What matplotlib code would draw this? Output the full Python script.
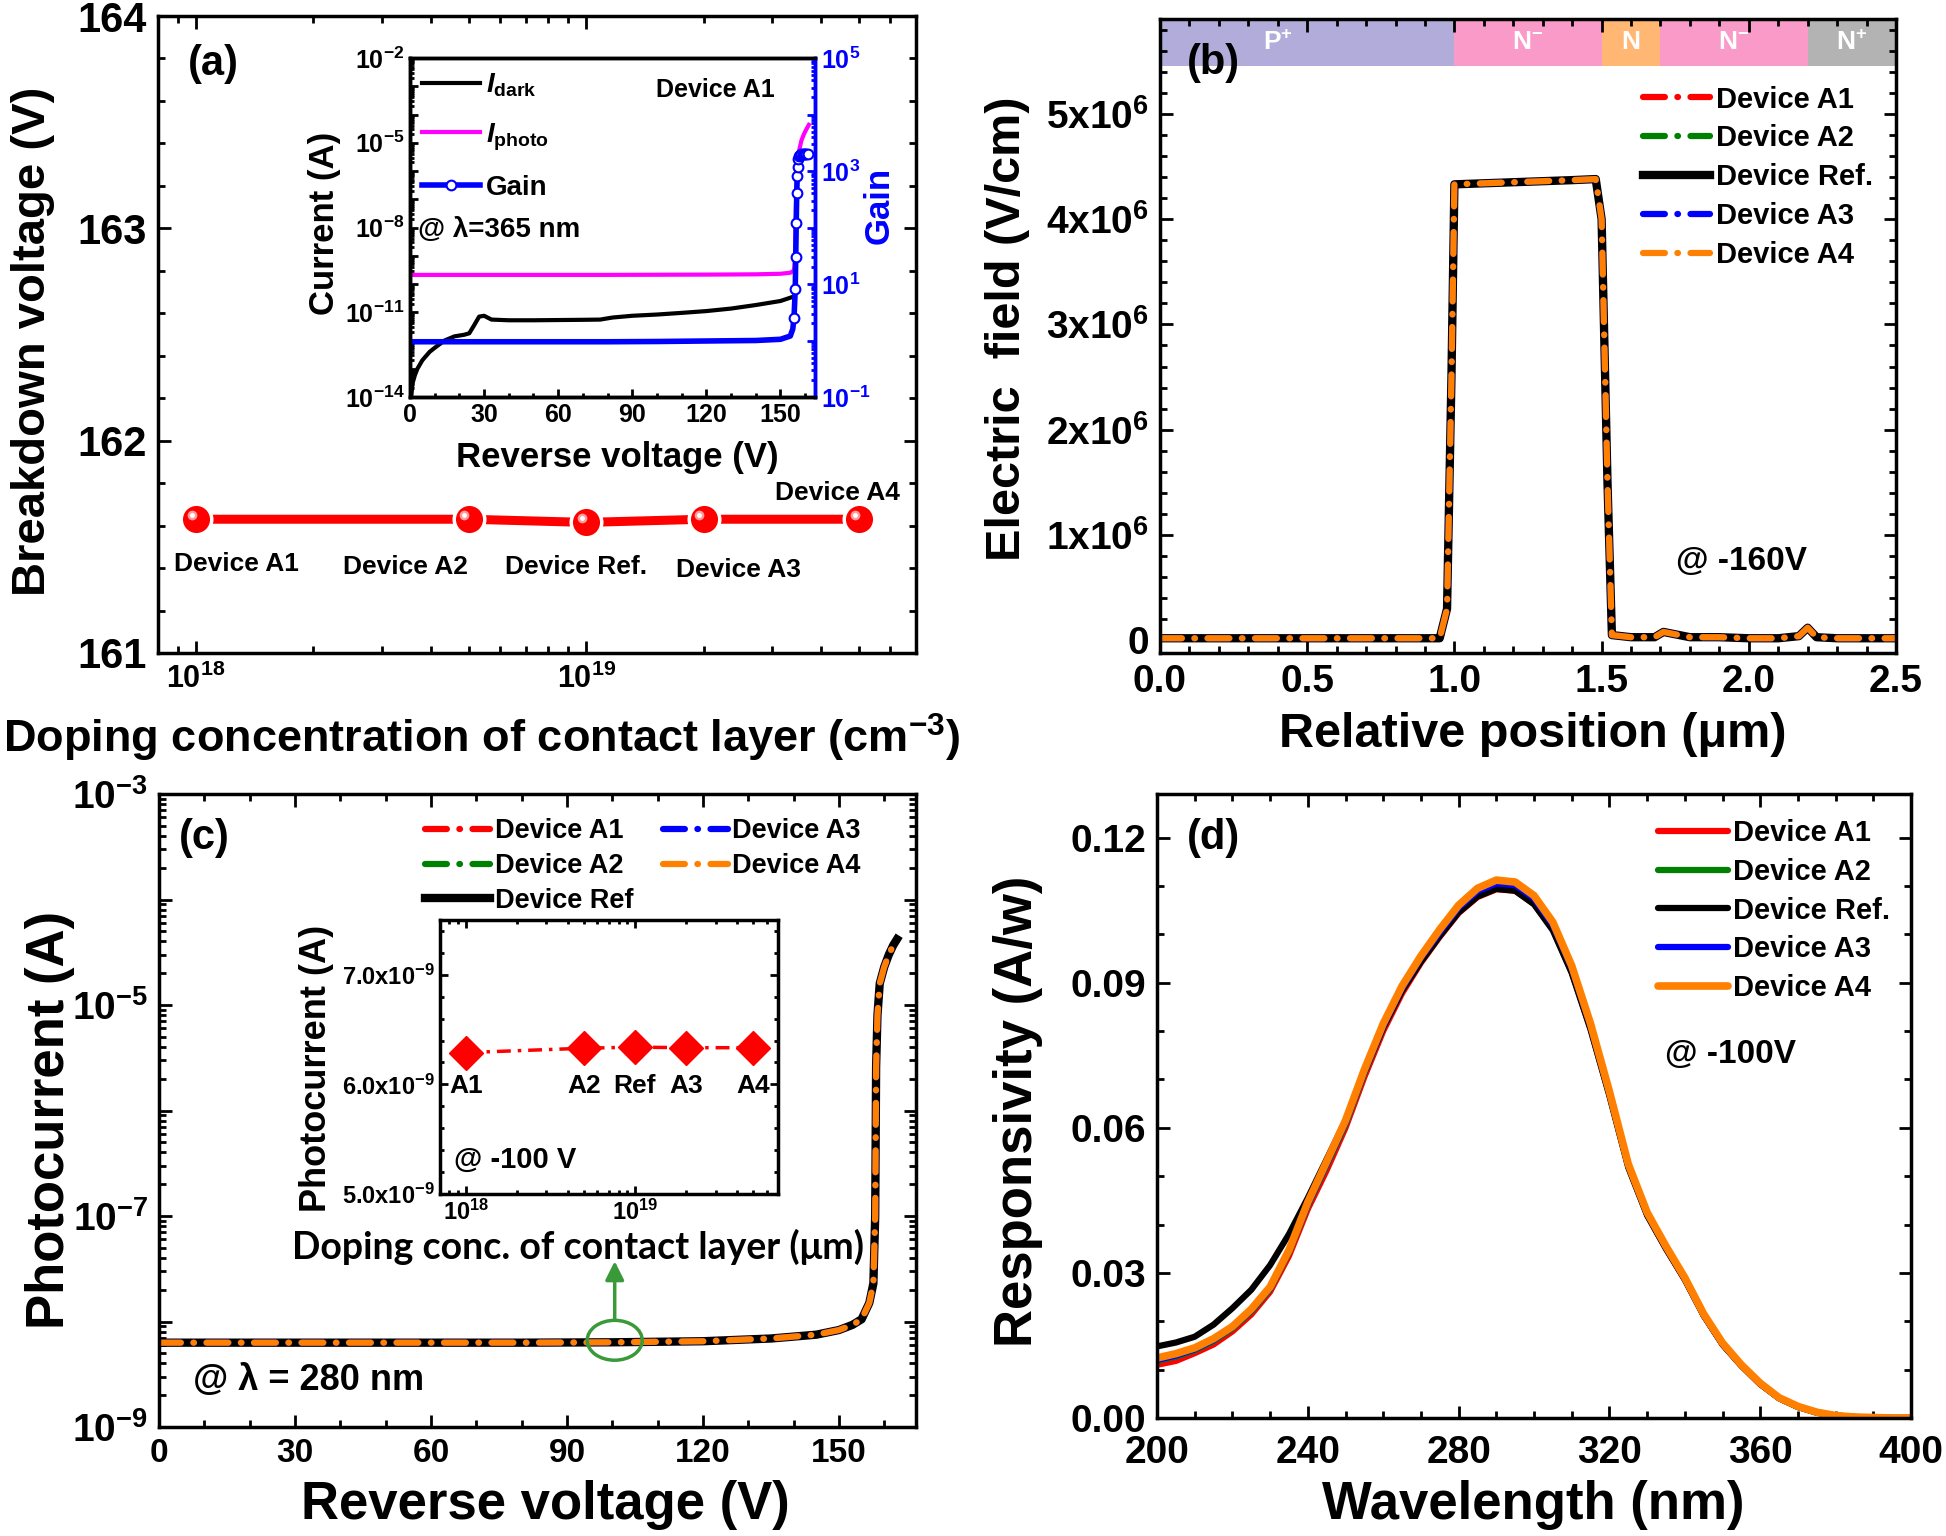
import numpy as np
import matplotlib
matplotlib.use("Agg")
import matplotlib.pyplot as plt
import matplotlib.transforms as mtransforms
from matplotlib.lines import Line2D
from matplotlib.ticker import MultipleLocator, LogLocator, FixedLocator, FuncFormatter, NullFormatter
from matplotlib.patches import Ellipse

plt.rcParams.update({
    "font.family": ["Liberation Sans", "DejaVu Sans"],
    "font.weight": "bold",
    "axes.labelweight": "bold",
    "mathtext.fontset": "custom",
    "mathtext.rm": "Liberation Sans:bold",
    "mathtext.bf": "Liberation Sans:bold",
    "mathtext.it": "Liberation Sans:bold:italic",
    "axes.unicode_minus": True,
})

# ---------------- data ----------------
# (a) breakdown voltage vs contact doping
doping = [1e18, 5e18, 1e19, 2e19, 5e19]
vbr = [161.63, 161.63, 161.615, 161.63, 161.63]
dev_labels_a = ["Device A1", "Device A2", "Device Ref.", "Device A3", "Device A4"]

# (a) inset: device A1 I-V and gain
v_dark = [0.5, 1, 2, 3, 5, 8, 10, 14, 18, 22, 24, 26, 28, 30, 33, 40, 50, 60, 70, 77, 82,
          90, 100, 110, 120, 130, 140, 150, 155]
i_dark = [1e-14, 3e-14, 6e-14, 1e-13, 2e-13, 4e-13, 5.5e-13, 1e-12, 1.4e-12, 1.6e-12, 1.8e-12,
          3.5e-12, 7e-12, 7.5e-12, 5.5e-12, 5.2e-12, 5.2e-12, 5.3e-12, 5.4e-12, 5.5e-12, 6.5e-12,
          7.5e-12, 8.3e-12, 9.5e-12, 1.1e-11, 1.35e-11, 1.8e-11, 2.5e-11, 3.5e-11]
v_photo = [0, 40, 80, 120, 140, 150, 154, 155.5, 156, 156.3, 156.8, 157.5, 158.5, 159.5, 160.5, 161.5]
i_photo = [2.1e-10, 2.1e-10, 2.1e-10, 2.15e-10, 2.2e-10, 2.3e-10, 2.5e-10, 3e-10, 1e-9, 5e-8,
           2e-6, 5e-6, 1.2e-5, 2e-5, 3e-5, 4.3e-5]
v_gain = [0, 20, 40, 60, 80, 100, 120, 140, 150, 154, 155, 155.5, 156, 156.2, 156.4, 156.6,
          156.8, 157.0, 157.3, 157.6, 158, 158.5, 159, 159.5, 160, 160.5, 161]
gain = [0.95, 0.95, 0.95, 0.95, 0.95, 0.96, 0.98, 1.0, 1.05, 1.2, 1.6, 2.5, 8, 30, 120, 400,
        800, 1200, 1600, 1850, 1950, 2000, 2000, 2000, 2000, 2000, 2000]

# (b) electric field profile at -160 V
position = [0.0, 0.95, 0.975, 0.99, 1.0, 1.1, 1.2, 1.3, 1.4, 1.48, 1.50, 1.52, 1.535, 1.6, 1.68,
            1.71, 1.8, 1.9, 2.0, 2.1, 2.17, 2.2, 2.23, 2.3, 2.5]
field = [0.02e6, 0.02e6, 0.3e6, 2.5e6, 4.33e6, 4.34e6, 4.35e6, 4.36e6, 4.37e6, 4.38e6, 4.0e6,
         1.5e6, 0.05e6, 0.03e6, 0.03e6, 0.08e6, 0.03e6, 0.03e6, 0.02e6, 0.02e6, 0.04e6, 0.12e6,
         0.03e6, 0.02e6, 0.02e6]
layers = [(0.0, 1.0, "P$^{+}$", "#b1acd9"), (1.0, 1.5, "N$^{-}$", "#fa9ac8"),
          (1.5, 1.7, "N", "#ffb773"), (1.7, 2.2, "N$^{-}$", "#fa9ac8"),
          (2.2, 2.5, "N$^{+}$", "#b3b3b3")]

# (c) photocurrent vs reverse voltage at 280 nm
v_pc = [0, 40, 80, 100, 120, 135, 145, 150, 153, 155, 156.7, 157.6, 158.0, 158.2, 158.5, 159,
        160, 161, 162, 162.8]
i_pc = [6.3e-9, 6.3e-9, 6.3e-9, 6.35e-9, 6.5e-9, 6.9e-9, 7.5e-9, 8.3e-9, 9.3e-9, 1.05e-8,
        1.5e-8, 2.3e-8, 1e-7, 2.6e-6, 8e-6, 1.6e-5, 2.3e-5, 3e-5, 3.7e-5, 4.2e-5]
pc_100v = [6.29e-9, 6.33e-9, 6.34e-9, 6.335e-9, 6.335e-9]
short_labels = ["A1", "A2", "Ref", "A3", "A4"]

# (d) responsivity spectra at -100 V
wl = [200, 205, 210, 215, 220, 225, 230, 235, 240, 245, 250, 255, 260, 265, 270, 275, 280, 285,
      290, 295, 300, 305, 310, 315, 320, 325, 330, 335, 340, 345, 350, 355, 360, 365, 370, 375,
      380, 385, 390, 395, 400]
r_a1 = [0.0110, 0.0118, 0.0134, 0.0152, 0.0179, 0.0214, 0.0261, 0.0335, 0.0432, 0.0512, 0.0600,
        0.0705, 0.0800, 0.0878, 0.0941, 0.0995, 0.1044, 0.1077, 0.1093, 0.1090, 0.1063, 0.1010,
        0.0922, 0.0805, 0.0668, 0.0520, 0.0420, 0.0350, 0.0286, 0.0212, 0.0152, 0.0108, 0.0070,
        0.0041, 0.0023, 0.0011, 0.0005, 0.0002, 0.0001, 0.0, 0.0]
r_a2 = [0.0118, 0.0127, 0.0140, 0.0159, 0.0185, 0.0220, 0.0266, 0.0342, 0.0439, 0.0522, 0.0607,
        0.0712, 0.0807, 0.0885, 0.0949, 0.1002, 0.1052, 0.1086, 0.1101, 0.1098, 0.1070, 0.1016,
        0.0928, 0.0810, 0.0671, 0.0522, 0.0422, 0.0352, 0.0288, 0.0213, 0.0153, 0.0109, 0.0071,
        0.0041, 0.0023, 0.0012, 0.0005, 0.0002, 0.0001, 0.0, 0.0]
r_ref = [0.0148, 0.0156, 0.0168, 0.0193, 0.0227, 0.0265, 0.0316, 0.0380, 0.0455, 0.0535,
         0.0615, 0.0715, 0.0807, 0.0883, 0.0943, 0.0996, 0.1045, 0.1078, 0.1094, 0.1090, 0.1062,
         0.1008, 0.0920, 0.0803, 0.0666, 0.0518, 0.0419, 0.0350, 0.0286, 0.0212, 0.0152, 0.0108,
         0.0070, 0.0041, 0.0023, 0.0011, 0.0005, 0.0002, 0.0001, 0.0, 0.0]
r_a3 = [0.0120, 0.0129, 0.0142, 0.0161, 0.0187, 0.0222, 0.0268, 0.0345, 0.0441, 0.0525, 0.0610,
        0.0715, 0.0810, 0.0888, 0.0951, 0.1004, 0.1055, 0.1089, 0.1105, 0.1102, 0.1074, 0.1019,
        0.0930, 0.0811, 0.0672, 0.0523, 0.0423, 0.0353, 0.0288, 0.0213, 0.0153, 0.0109, 0.0071,
        0.0041, 0.0023, 0.0012, 0.0005, 0.0002, 0.0001, 0.0, 0.0]
r_a4 = [0.0124, 0.0133, 0.0145, 0.0164, 0.0189, 0.0225, 0.0271, 0.0347, 0.0446, 0.0530, 0.0615,
        0.0720, 0.0815, 0.0893, 0.0955, 0.1010, 0.1060, 0.1095, 0.1112, 0.1108, 0.1080, 0.1025,
        0.0935, 0.0815, 0.0675, 0.0525, 0.0425, 0.0355, 0.0290, 0.0215, 0.0155, 0.0110, 0.0072,
        0.0042, 0.0024, 0.0012, 0.0005, 0.0002, 0.0001, 0.0, 0.0]

dev_names = ["Device A1", "Device A2", "Device Ref.", "Device A3", "Device A4"]
dev_colors = ["#ff0000", "#008000", "#000000", "#0000ff", "#ff8000"]
dashdot = (0, (3.5, 2, 0.1, 2))

# ---------------- helpers ----------------
W, H = 1946, 1536


def box(l, t, r, b):
    return [l / W, 1 - b / H, (r - l) / W, (b - t) / H]


def style(ax, size, top=True, right=True, pad=8, major=9, minor=5):
    ax.tick_params(which="both", direction="in", top=top, right=right, width=2,
                   labelsize=size, pad=pad)
    ax.tick_params(which="major", length=major)
    ax.tick_params(which="minor", length=minor)
    for s in ax.spines.values():
        s.set_linewidth(2.5)


def pow10(keep):
    def f(v, pos):
        e = int(round(np.log10(v)))
        return r"$\mathdefault{10^{%d}}$" % e if e in keep else ""
    return FuncFormatter(f)


fig = plt.figure(figsize=(19.46, 15.36), dpi=100)

# ================= (a) =================
ax = fig.add_axes(box(158, 16, 916, 653))
ax.set_xscale("log")
ax.set_xlim(8e17, 7e19)
ax.set_ylim(161, 164)
ax.plot(doping, vbr, "-", color="red", lw=6.5, zorder=2)
ax.plot(doping, vbr, "o", ms=22, mfc="red", mec="white", mew=2.5, zorder=3)
shine = mtransforms.offset_copy(ax.transData, fig=fig, x=-3, y=3, units="points")
ax.plot(doping, vbr, "o", ms=7, mfc="#ff9c9c", mec="none", zorder=4, transform=shine)
ax.plot(doping, vbr, "o", ms=3.5, mfc="white", mec="none", zorder=5, transform=shine)
label_pos_a = [(1.27e18, 161.42), (3.45e18, 161.405), (9.4e18, 161.405), (2.45e19, 161.39),
               (4.4e19, 161.755)]
for (lx, ly), t in zip(label_pos_a, dev_labels_a):
    ax.text(lx, ly, t, ha="center", va="center", fontsize=19)
ax.xaxis.set_major_locator(LogLocator(base=10, numticks=10))
ax.xaxis.set_minor_locator(LogLocator(base=10, subs=np.arange(2, 10), numticks=20))
ax.xaxis.set_minor_formatter(NullFormatter())
ax.yaxis.set_major_locator(MultipleLocator(1))
ax.yaxis.set_minor_locator(MultipleLocator(0.2))
ax.yaxis.set_major_formatter(FuncFormatter(lambda v, p: "%d" % v))
style(ax, 30)
ax.tick_params(axis="x", labelsize=22)
ax.set_ylabel("Breakdown voltage (V)", fontsize=34, va="center")
ax.yaxis.set_label_coords(-0.165, 0.49)
ax.set_xlabel("Doping concentration of contact layer (cm$^{-3}$)", fontsize=32.5, va="center")
ax.xaxis.set_label_coords(0.427, -0.133)
ax.text(0.04, 0.925, "(a)", transform=ax.transAxes, fontsize=30, va="center")

# inset (a)
ia = fig.add_axes(box(410, 58, 815, 397))
ia.set_yscale("log")
ia.set_xlim(0, 164)
ia.set_ylim(1e-14, 1e-2)
h_dark, = ia.plot(v_dark, i_dark, color="black", lw=3, label=r"$\mathit{I}_{\mathdefault{dark}}$")
h_photo, = ia.plot(v_photo, i_photo, color="#ff00ff", lw=3,
                   label=r"$\mathit{I}_{\mathdefault{photo}}$")
ia.xaxis.set_major_locator(MultipleLocator(30))
ia.xaxis.set_minor_locator(MultipleLocator(10))
ia.yaxis.set_major_locator(FixedLocator([10.0 ** e for e in range(-14, -1)]))
ia.yaxis.set_major_formatter(pow10([-14, -11, -8, -5, -2]))
ia.yaxis.set_minor_locator(LogLocator(base=10, subs=np.arange(2, 10), numticks=30))
ia.yaxis.set_minor_formatter(NullFormatter())
style(ia, 18, top=False, right=False, pad=4, major=6, minor=3)
ia.spines["right"].set_color("blue")
ia.set_xlabel("Reverse voltage (V)", fontsize=25, va="center")
ia.xaxis.set_label_coords(0.511, -0.177)
ia.set_ylabel("Current (A)", fontsize=25, va="center")
ia.yaxis.set_label_coords(-0.21, 0.513)

ig = ia.twinx()
ig.set_yscale("log")
ig.set_ylim(0.1, 1e5)
ig.plot(v_gain, gain, color="blue", lw=4, marker="o", ms=7, mfc="white", mec="blue",
        mew=1.5, markevery=list(range(11, len(v_gain))))
ig.yaxis.set_major_locator(FixedLocator([10.0 ** e for e in range(-1, 6)]))
ig.yaxis.set_major_formatter(pow10([-1, 1, 3, 5]))
ig.yaxis.set_minor_locator(LogLocator(base=10, subs=np.arange(2, 10), numticks=30))
ig.yaxis.set_minor_formatter(NullFormatter())
ig.tick_params(which="both", direction="in", colors="blue", width=2, labelsize=18, pad=4)
ig.tick_params(which="major", length=6)
ig.tick_params(which="minor", length=3)
for s in ig.spines.values():
    s.set_linewidth(2.5)
ig.spines["right"].set_color("blue")
ig.set_ylabel("Gain", fontsize=25, color="blue", va="center", rotation=90)
ig.yaxis.set_label_coords(1.158, 0.566)
h_gain = Line2D([], [], color="blue", lw=4, marker="o", ms=7, mfc="white", mec="blue", mew=1.5)
ig.legend([h_dark, h_photo, h_gain], [h_dark.get_label(), h_photo.get_label(), "Gain"],
          loc="upper left", bbox_to_anchor=(0.03, 0.96), fontsize=20, handlelength=2.1,
          handletextpad=0.2, labelspacing=0.8, borderpad=0, borderaxespad=0, frameon=False,
          numpoints=1)
ig.text(0.755, 0.905, "Device A1", transform=ig.transAxes, fontsize=18, ha="center", va="center")
ig.text(0.02, 0.494, "@ λ=365 nm", transform=ig.transAxes, fontsize=20, ha="left", va="center")

# ================= (b) =================
bx = fig.add_axes(box(1160, 19, 1896, 653))
bx.set_xlim(0, 2.5)
bx.set_ylim(-0.12e6, 5.9e6)
for x0, x1, name, col in layers:
    bx.axvspan(x0, x1, ymin=0.926, ymax=1.0, color=col, lw=0, zorder=0.5)
    bx.text((x0 + x1) / 2 if name != "P$^{+}$" else 0.4, 0.963, name, color="white",
            fontsize=19, ha="center", va="center", transform=bx.get_xaxis_transform())
for name, col in zip(dev_names, dev_colors):
    if name == "Device Ref.":
        bx.plot(position, field, color=col, lw=6, label=name)
    else:
        bx.plot(position, field, color=col, lw=4.5, ls=dashdot, dash_capstyle="round", label=name)
bx.xaxis.set_major_locator(MultipleLocator(0.5))
bx.xaxis.set_minor_locator(MultipleLocator(0.1))
bx.xaxis.set_major_formatter(FuncFormatter(lambda v, p: "%.1f" % v))
bx.yaxis.set_major_locator(MultipleLocator(1e6))
bx.yaxis.set_minor_locator(MultipleLocator(0.2e6))
bx.yaxis.set_major_formatter(FuncFormatter(
    lambda v, p: "0" if abs(v) < 1 else r"$\mathdefault{%dx10^{6}}$" % round(v / 1e6)))
style(bx, 28)
bx.set_xlabel("Relative position (μm)", fontsize=35, va="center")
bx.xaxis.set_label_coords(0.507, -0.129)
bx.set_ylabel("Electric  field (V/cm)", fontsize=35, va="center")
bx.yaxis.set_label_coords(-0.207, 0.511)
bx.text(0.073, 0.93, "(b)", transform=bx.transAxes, fontsize=30, ha="center", va="center")
bx.text(0.79, 0.145, "@ -160V", transform=bx.transAxes, fontsize=24, ha="center", va="center")
bx.legend(loc="upper left", bbox_to_anchor=(0.656, 0.895), fontsize=21, handlelength=2.3,
          handletextpad=0.2, labelspacing=0.37, borderpad=0, borderaxespad=0, frameon=False)

# ================= (c) =================
cx = fig.add_axes(box(159, 794, 916, 1427))
cx.set_yscale("log")
cx.set_xlim(0, 167)
cx.set_ylim(1e-9, 1e-3)
for name, col in zip(dev_names, dev_colors):
    lab = "Device Ref" if name == "Device Ref." else name
    if name == "Device Ref.":
        cx.plot(v_pc, i_pc, color=col, lw=6, label=lab)
    else:
        cx.plot(v_pc, i_pc, color=col, lw=4.5, ls=dashdot, dash_capstyle="round", label=lab)
cx.xaxis.set_major_locator(MultipleLocator(30))
cx.xaxis.set_minor_locator(MultipleLocator(10))
cx.yaxis.set_major_locator(FixedLocator([10.0 ** e for e in range(-9, -2)]))
cx.yaxis.set_major_formatter(pow10([-9, -7, -5, -3]))
cx.yaxis.set_minor_locator(LogLocator(base=10, subs=np.arange(2, 10), numticks=30))
cx.yaxis.set_minor_formatter(NullFormatter())
style(cx, 24)
cx.tick_params(axis="y", labelsize=28)
cx.set_xlabel("Reverse voltage (V)", fontsize=38, va="center")
cx.xaxis.set_label_coords(0.511, -0.123)
cx.set_ylabel("Photocurrent (A)", fontsize=38, va="center")
cx.yaxis.set_label_coords(-0.144, 0.485)
cx.text(0.06, 0.93, "(c)", transform=cx.transAxes, fontsize=30, ha="center", va="center")
cx.text(0.045, 0.073, "@ λ = 280 nm", transform=cx.transAxes, fontsize=26, ha="left",
        va="center")
cx.legend(loc="upper left", bbox_to_anchor=(0.352, 0.962), ncol=2, fontsize=19.5,
          handlelength=2.4, handletextpad=0.15, labelspacing=0.33, columnspacing=1.1,
          borderpad=0, borderaxespad=0, frameon=False)
cx.add_patch(Ellipse((0.602, 0.137), 0.0727, 0.063, transform=cx.transAxes, fill=False,
                     ec="#3a9a3a", lw=2.5, zorder=5))
cx.annotate("", xy=(0.602, 0.262), xytext=(0.602, 0.169), xycoords="axes fraction",
            textcoords="axes fraction",
            arrowprops=dict(arrowstyle="-|>", color="#3a9a3a", lw=2.5, mutation_scale=28,
                            shrinkA=0, shrinkB=0))

# inset (c)
ic = fig.add_axes(box(440, 920, 778, 1194))
ic.set_xscale("log")
ic.set_xlim(7.05e17, 7e19)
ic.set_ylim(5e-9, 7.5e-9)
ic.plot(doping, pc_100v, color="red", lw=2.5, ls=(0, (4, 2, 1, 2)), marker="D", ms=17,
        mfc="red", mec="red")
for xv, t in zip(doping, short_labels):
    ic.text(xv, 5.985e-9, t, ha="center", va="center", fontsize=19)
ic.text(0.04, 0.124, "@ -100 V", transform=ic.transAxes, fontsize=21, ha="left", va="center")
ic.xaxis.set_major_locator(LogLocator(base=10, numticks=10))
ic.xaxis.set_minor_locator(LogLocator(base=10, subs=np.arange(2, 10), numticks=20))
ic.xaxis.set_minor_formatter(NullFormatter())
ic.yaxis.set_major_locator(MultipleLocator(1e-9))
ic.yaxis.set_minor_locator(MultipleLocator(0.2e-9))
ic.yaxis.set_major_formatter(FuncFormatter(
    lambda v, p: r"$\mathdefault{%.1fx10^{-9}}$" % (v * 1e9)))
style(ic, 17, pad=4, major=6, minor=3)
ic.set_xlabel("Doping conc. of contact layer (μm)", fontsize=27, va="center",
              fontfamily=["Lato", "DejaVu Sans"])
ic.xaxis.set_label_coords(0.408, -0.193)
ic.set_ylabel("Photocurrent (A)", fontsize=26, va="center")
ic.yaxis.set_label_coords(-0.364, 0.46)

# ================= (d) =================
dx = fig.add_axes(box(1157, 794, 1911, 1418))
dx.set_xlim(200, 400)
dx.set_ylim(0, 0.129)
for name, col, r in zip(dev_names, dev_colors, [r_a1, r_a2, r_ref, r_a3, r_a4]):
    dx.plot(wl, r, color=col, lw=5.5 if col == "#ff8000" else 4.5, label=name,
            solid_capstyle="round", solid_joinstyle="round")
dx.xaxis.set_major_locator(MultipleLocator(40))
dx.xaxis.set_minor_locator(MultipleLocator(10))
dx.yaxis.set_major_locator(MultipleLocator(0.03))
dx.yaxis.set_minor_locator(MultipleLocator(0.01))
dx.yaxis.set_major_formatter(FuncFormatter(lambda v, p: "%.2f" % v))
style(dx, 28)
dx.tick_params(axis="x", pad=12)
dx.set_xlabel("Wavelength (nm)", fontsize=38, va="center")
dx.xaxis.set_label_coords(0.499, -0.139)
dx.set_ylabel("Responsivity (A/w)", fontsize=38, va="center")
dx.yaxis.set_label_coords(-0.184, 0.492)
dx.text(0.075, 0.93, "(d)", transform=dx.transAxes, fontsize=30, ha="center", va="center")
dx.text(0.76, 0.583, "@ -100V", transform=dx.transAxes, fontsize=24, ha="center", va="center")
dx.legend(loc="upper left", bbox_to_anchor=(0.664, 0.96), fontsize=21, handlelength=2.4,
          handletextpad=0.2, labelspacing=0.37, borderpad=0, borderaxespad=0, frameon=False)

fig.savefig("out.png", dpi=100)
